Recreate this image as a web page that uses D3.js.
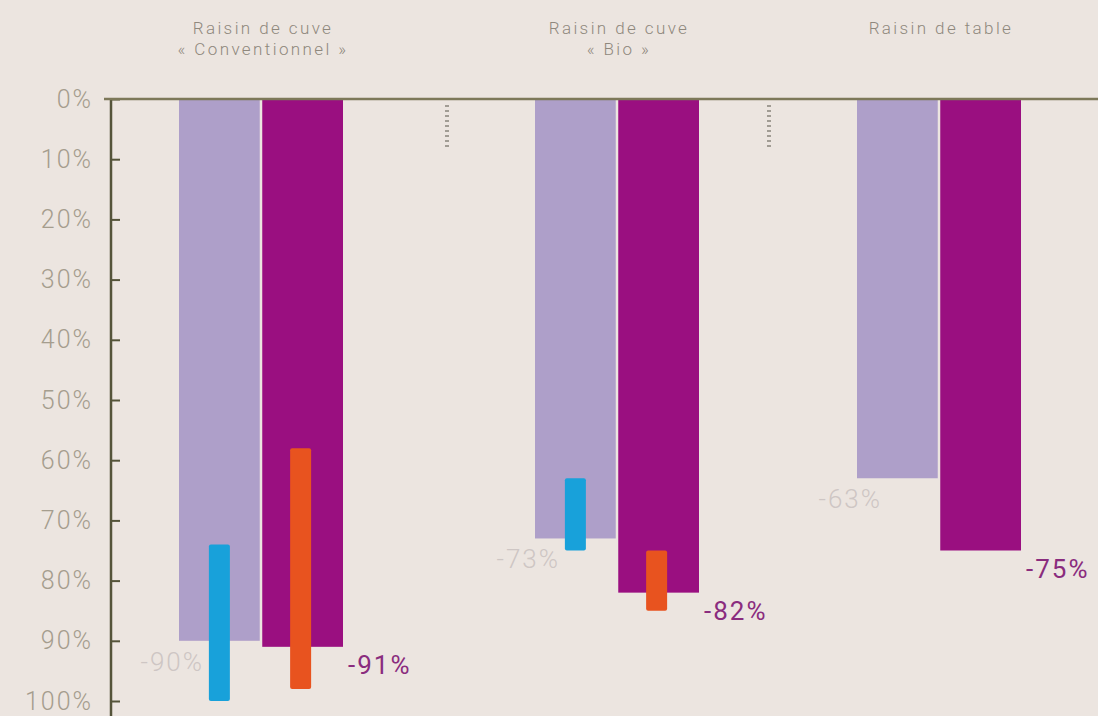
<!DOCTYPE html>
<html>
<head>
<meta charset="utf-8">
<script src="https://cdn.jsdelivr.net/npm/d3@7"></script>
<style>
  html, body { margin: 0; padding: 0; background: #ece5e0; }
  svg { display: block; }
  text { font-family: Roboto, "Open Sans", sans-serif; }
</style>
</head>
<body>
<svg id="chart" width="1098" height="716"></svg>
<script>
// Reduction in pesticide use (IFT) per crop type
const categories = ["conv", "bio", "table"];
const categoryLines = [
  ["Raisin de cuve", "« Conventionnel »"],
  ["Raisin de cuve", "« Bio »"],
  ["Raisin de table"]
];
const lightValues = [90, 73, 63];       // lavender bars
const darkValues = [91, 82, 75];        // magenta bars
const blueRanges = [[74, 100], [63, 75], null];
const orangeRanges = [[58, 98], [75, 85], null];
const yTicks = [0, 10, 20, 30, 40, 50, 60, 70, 80, 90, 100];

const colors = {
  bg: "#ece5e0",
  light: "#ae9fc9",
  dark: "#9a0f80",
  blue: "#18a1da",
  orange: "#e8531f",
  axis: "#55543a",
  topLine: "#7d7859",
  tickText: "#a59d8e",
  header: "#8f887d",
  lightLabel: "#cec6c4",
  darkLabel: "#8a2c7e",
  sep: "#a19c94"
};

const svg = d3.select("#chart");
const W = 1098, H = 716;

const y = d3.scaleLinear().domain([0, 100]).range([99, 701]);
const xGroup = d3.scaleOrdinal().domain(categories).range([261, 617, 939]);
const xInner = d3.scaleBand().domain(["light", "dark"]).range([-82, 82]).paddingInner(0.03);
const bw = xInner.bandwidth();
const rangeW = 21;

const data = categories.map((c, i) => ({
  key: c, lines: categoryLines[i],
  light: lightValues[i], dark: darkValues[i],
  blue: blueRanges[i], orange: orangeRanges[i]
}));

// bars
const g = svg.append("g");
g.selectAll("rect.light").data(data).join("rect")
  .attr("class", "light")
  .attr("x", d => xGroup(d.key) + xInner("light"))
  .attr("y", y(0))
  .attr("width", bw)
  .attr("height", d => y(d.light) - y(0))
  .attr("fill", colors.light);

g.selectAll("rect.dark").data(data).join("rect")
  .attr("class", "dark")
  .attr("x", d => xGroup(d.key) + xInner("dark"))
  .attr("y", y(0))
  .attr("width", bw)
  .attr("height", d => y(d.dark) - y(0))
  .attr("fill", colors.dark);

// range bars
g.selectAll("rect.blue").data(data.filter(d => d.blue)).join("rect")
  .attr("class", "blue")
  .attr("x", d => xGroup(d.key) + xInner("light") + bw / 2 - rangeW / 2)
  .attr("y", d => y(d.blue[0]))
  .attr("width", rangeW)
  .attr("height", d => y(d.blue[1]) - y(d.blue[0]))
  .attr("rx", 2)
  .attr("fill", colors.blue);

g.selectAll("rect.orange").data(data.filter(d => d.orange)).join("rect")
  .attr("class", "orange")
  .attr("x", d => xGroup(d.key) + xInner("dark") + bw / 2 - rangeW / 2 - 2)
  .attr("y", d => y(d.orange[0]))
  .attr("width", rangeW)
  .attr("height", d => y(d.orange[1]) - y(d.orange[0]))
  .attr("rx", 2)
  .attr("fill", colors.orange);

// value labels
g.selectAll("text.lightLabel").data(data).join("text")
  .attr("class", "lightLabel")
  .attr("x", d => xGroup(d.key) + xInner("light") + 25)
  .attr("y", d => y(d.light) + 21)
  .attr("text-anchor", "end")
  .attr("dominant-baseline", "central")
  .attr("font-size", 26)
  .attr("font-weight", 300)
  .attr("letter-spacing", 2)
  .attr("fill", colors.lightLabel)
  .text(d => "-" + d.light + "%");

g.selectAll("text.darkLabel").data(data).join("text")
  .attr("class", "darkLabel")
  .attr("x", d => xGroup(d.key) + xInner("dark") + bw + 5)
  .attr("y", d => y(d.dark) + 18)
  .attr("text-anchor", "start")
  .attr("dominant-baseline", "central")
  .attr("font-size", 26)
  .attr("font-weight", 400)
  .attr("letter-spacing", 2)
  .attr("fill", colors.darkLabel)
  .text(d => "-" + d.dark + "%");

// y axis
const axisX = 111;
const yAxis = d3.axisRight(y).tickValues(yTicks).tickSize(9).tickFormat("");
const axG = svg.append("g").attr("transform", `translate(${axisX},0)`).call(yAxis);
axG.select(".domain").remove();
axG.selectAll(".tick line").attr("stroke", colors.axis).attr("stroke-width", 2);
svg.append("line")
  .attr("x1", axisX).attr("x2", axisX)
  .attr("y1", y(0)).attr("y2", H)
  .attr("stroke", colors.axis).attr("stroke-width", 2.5);

svg.append("g").selectAll("text").data(yTicks).join("text")
  .attr("x", 93)
  .attr("y", d => y(d))
  .attr("text-anchor", "end")
  .attr("dominant-baseline", "central")
  .attr("font-size", 25)
  .attr("font-weight", 300)
  .attr("letter-spacing", 2)
  .attr("fill", colors.tickText)
  .text(d => d + "%");

// top baseline
svg.append("line")
  .attr("x1", 104).attr("x2", W)
  .attr("y1", y(0)).attr("y2", y(0))
  .attr("stroke", colors.topLine).attr("stroke-width", 2.5);

// dotted separators between groups
const sepX = [447, 769];
svg.append("g").selectAll("line").data(sepX).join("line")
  .attr("x1", d => d).attr("x2", d => d)
  .attr("y1", 105).attr("y2", 149)
  .attr("stroke", colors.sep)
  .attr("stroke-width", 4)
  .attr("stroke-dasharray", "2,3");

// group headers
const hdr = svg.append("g").selectAll("text").data(data).join("text")
  .attr("x", d => xGroup(d.key) + 2)
  .attr("text-anchor", "middle")
  .attr("font-size", 17)
  .attr("font-weight", 300)
  .attr("letter-spacing", 2.4)
  .attr("fill", colors.header);
hdr.selectAll("tspan").data(d => d.lines).join("tspan")
  .attr("x", function () { return d3.select(this.parentNode).attr("x"); })
  .attr("y", (d, i) => 34 + i * 21)
  .text(d => d);
</script>
</body>
</html>
